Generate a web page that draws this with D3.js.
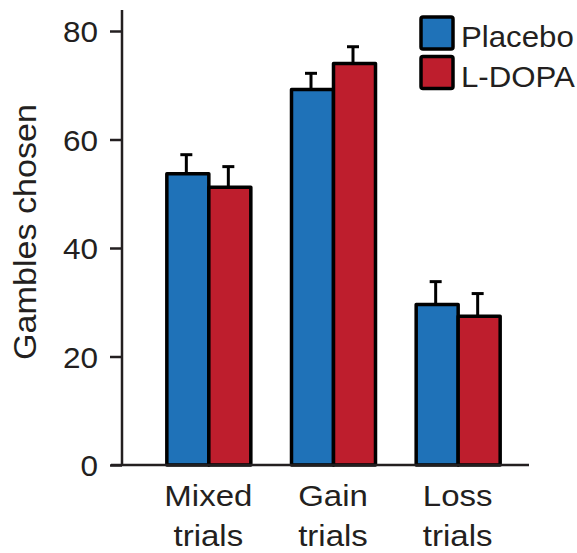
<!DOCTYPE html>
<html>
<head>
<meta charset="utf-8">
<script src="https://cdn.jsdelivr.net/npm/d3@7"></script>
<style>
  body { margin: 0; background: #fff; }
  text { font-family: "Liberation Sans", Arial, sans-serif; fill: #231f20; }
</style>
</head>
<body>
<div id="chart"></div>
<script>
// data
const categories = ["Mixed trials", "Gain trials", "Loss trials"];
const groups = ["Placebo", "L-DOPA"];
const placeboMeans = [53.7, 69.2, 29.6];
const placeboErr = [3.5, 3.0, 4.2];
const ldopaMeans = [51.2, 74.0, 27.4];
const ldopaErr = [3.8, 3.1, 4.2];
const yTicks = [0, 20, 40, 60, 80];

const colors = { "Placebo": "#1f72b8", "L-DOPA": "#be1e2d" };
const ink = "#231f20";

const width = 577, height = 553;
const svg = d3.select("#chart").append("svg")
  .attr("width", width)
  .attr("height", height);

// scales
const y = d3.scaleLinear().domain([0, 80]).range([465, 31]);
const x = d3.scaleBand().domain(categories).range([145, 519])
  .paddingInner(0).paddingOuter(0);
const xInner = d3.scaleBand().domain(groups).range([0, 84]);
const barOffset = (x.bandwidth() - 84) / 2;

// text in the figure is a bit wider than Liberation Sans
function stretch(sel, k) {
  sel.each(function() {
    const w = this.getComputedTextLength();
    d3.select(this).attr("textLength", w * k).attr("lengthAdjust", "spacingAndGlyphs");
  });
}

// rows for bars
let rows = [];
categories.forEach(function(c, i) {
  rows.push({ cat: c, group: "Placebo", mean: placeboMeans[i], err: placeboErr[i] });
  rows.push({ cat: c, group: "L-DOPA", mean: ldopaMeans[i], err: ldopaErr[i] });
});

function barMid(d) {
  return x(d.cat) + barOffset + xInner(d.group) + xInner.bandwidth() / 2;
}

// error bars first, so the bar outline sits on top
let errs = svg.append("g").selectAll("g").data(rows).enter().append("g");
errs.append("line")
  .attr("x1", d => barMid(d))
  .attr("x2", d => barMid(d))
  .attr("y1", d => y(d.mean))
  .attr("y2", d => y(d.mean + d.err))
  .attr("stroke", "#000").attr("stroke-width", 3);
errs.append("line")
  .attr("x1", d => barMid(d) - 6)
  .attr("x2", d => barMid(d) + 6)
  .attr("y1", d => y(d.mean + d.err))
  .attr("y2", d => y(d.mean + d.err))
  .attr("stroke", "#000").attr("stroke-width", 3);

svg.append("g").selectAll("rect").data(rows).enter().append("rect")
  .attr("x", d => x(d.cat) + barOffset + xInner(d.group) + 1.5)
  .attr("width", xInner.bandwidth())
  .attr("y", d => y(d.mean))
  .attr("height", d => y(0) - y(d.mean))
  .attr("fill", d => colors[d.group])
  .attr("stroke", "#000")
  .attr("stroke-width", 3.5)
  .attr("stroke-linejoin", "round");

// y axis
const yAxis = svg.append("g").attr("transform", "translate(122,0)")
  .call(d3.axisLeft(y).tickValues(yTicks).tickSize(12).tickPadding(12).tickFormat(d3.format("d")));
yAxis.select(".domain").remove();
yAxis.selectAll(".tick line").attr("stroke", ink).attr("stroke-width", 2.5);
yAxis.selectAll(".tick text").attr("font-size", 30).attr("fill", ink)
  .attr("font-family", "Liberation Sans, Arial, sans-serif").attr("dy", "0.36em");
stretch(yAxis.selectAll(".tick text"), 1.05);
yAxis.append("line").attr("x1", 0).attr("x2", 0).attr("y1", 10).attr("y2", y(0))
  .attr("stroke", ink).attr("stroke-width", 2.5);

// x axis baseline
svg.append("line").attr("x1", 111).attr("x2", 529).attr("y1", y(0)).attr("y2", y(0))
  .attr("stroke", ink).attr("stroke-width", 2.5);

// category labels, two lines each
let catLabels = svg.append("g").selectAll("text").data(categories).enter().append("text")
  .attr("text-anchor", "middle")
  .attr("font-size", 30);
catLabels.append("tspan")
  .attr("x", d => x(d) + x.bandwidth() / 2 + 1)
  .attr("y", 506)
  .text(d => d.split(" ")[0]);
catLabels.append("tspan")
  .attr("x", d => x(d) + x.bandwidth() / 2 + 1)
  .attr("y", 546)
  .text(d => d.split(" ")[1]);
catLabels.selectAll("tspan").each(function() {
  const w = this.getComputedTextLength();
  d3.select(this).attr("textLength", w * 1.1).attr("lengthAdjust", "spacingAndGlyphs");
});

// y axis title
let yTitle = svg.append("text")
  .attr("transform", "translate(36,232) rotate(-90)")
  .attr("text-anchor", "middle")
  .attr("font-size", 31)
  .text("Gambles chosen");
stretch(yTitle, 1.1);

// legend
let legend = svg.append("g").selectAll("g").data(groups).enter().append("g")
  .attr("transform", (d, i) => "translate(421," + (17 + i * 39.5) + ")");
legend.append("rect")
  .attr("width", 32).attr("height", 32)
  .attr("rx", 2)
  .attr("fill", d => colors[d])
  .attr("stroke", "#000").attr("stroke-width", 3.5);
let legendText = legend.append("text")
  .attr("x", 40).attr("y", 30)
  .attr("font-size", 30)
  .text(d => d);
stretch(legendText, 1.04);
</script>
</body>
</html>
